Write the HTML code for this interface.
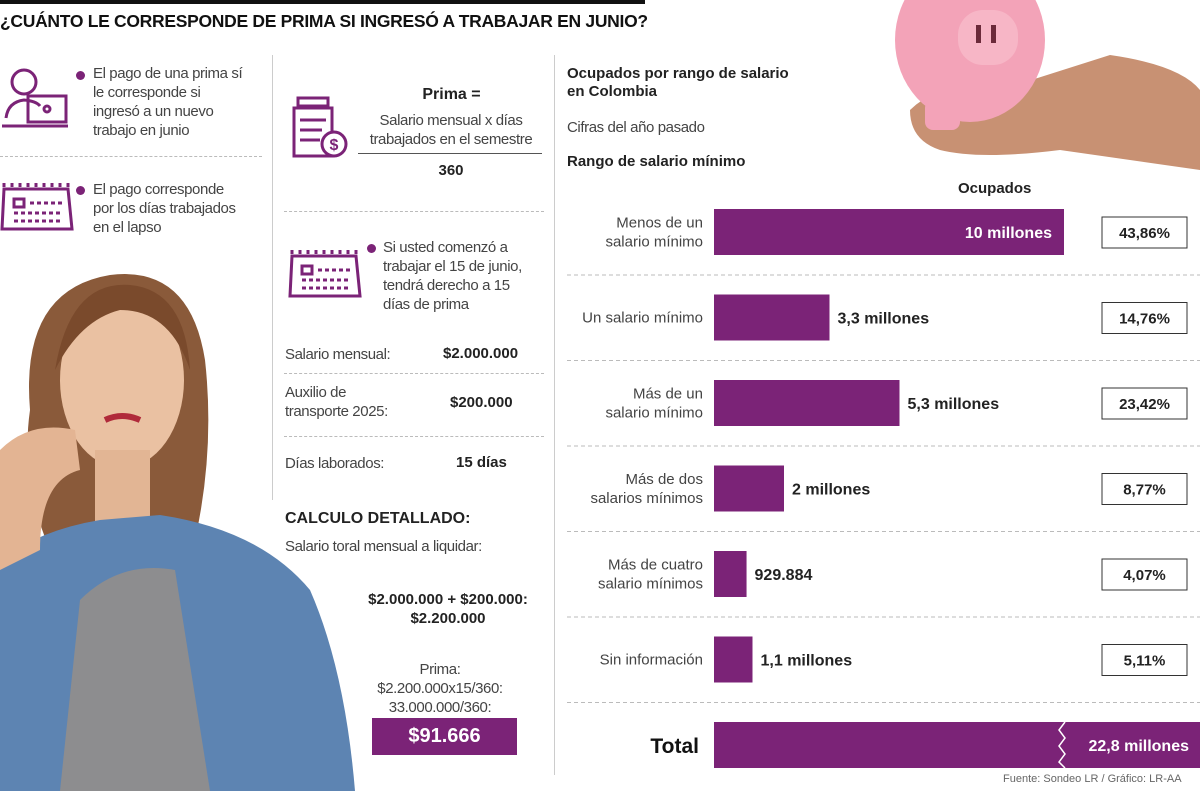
<!DOCTYPE html>
<html><head><meta charset="utf-8">
<style>
body{margin:0;width:1200px;height:791px;background:#fff;position:relative;overflow:hidden;font-family:"Liberation Sans",sans-serif;color:#333}
.a{position:absolute}
.t{font-size:15px;line-height:19px;color:#444;letter-spacing:-0.4px;white-space:nowrap}
.b{font-weight:bold;color:#222}
.dash{position:absolute;border-top:1px dashed #bbb;height:0}
.dot{position:absolute;width:9px;height:9px;border-radius:50%;background:#7b2377}
</style></head><body>
<div class="a" style="left:0;top:0;width:645px;height:4px;background:#111"></div>
<div class="a b" style="left:0;top:11px;font-size:17.5px;letter-spacing:-0.3px;color:#111">¿CUÁNTO LE CORRESPONDE DE PRIMA SI INGRESÓ A TRABAJAR EN JUNIO?</div>

<div class="a" style="left:272px;top:55px;width:1px;height:445px;background:#ccc"></div>
<div class="a" style="left:554px;top:55px;width:1px;height:720px;background:#ccc"></div>

<!-- left column -->
<svg class="a" style="left:0;top:66px" width="70" height="66" viewBox="0 0 70 66" fill="none" stroke="#7b2377" stroke-width="3"><circle cx="24" cy="16" r="12"/><path d="M6 52 Q8 36 24 34 Q36 35 40 40"/><rect x="28" y="30" width="38" height="26"/><circle cx="47" cy="43" r="3"/><path d="M2 60 H68"/></svg>
<div class="dot" style="left:76px;top:71px"></div>
<div class="a t" style="left:93px;top:64px">El pago de una prima sí<br>le corresponde si<br>ingresó a un nuevo<br>trabajo en junio</div>
<div class="dash" style="left:0;top:156px;width:262px"></div>
<svg class="a" style="left:0;top:181px" width="74" height="52" viewBox="0 0 74 52" fill="none" stroke="#7b2377" stroke-width="3"><path d="M4 8 H68 L72 48 H2 Z"/><path d="M4 6 V2 M12 6 V2 M20 6 V2 M28 6 V2 M36 6 V2 M44 6 V2 M52 6 V2 M60 6 V2 M68 6 V2"/><rect x="14" y="18" width="10" height="8"/><path d="M30 22 H62 M14 32 H62 M14 40 H62" stroke-dasharray="4 3"/></svg>
<div class="dot" style="left:76px;top:186px"></div>
<div class="a t" style="left:93px;top:180px">El pago corresponde<br>por los días trabajados<br>en el lapso</div>

<svg class="a" style="left:0;top:250px" width="355" height="541" viewBox="0 0 355 541">
<path d="M30 160 Q20 40 110 25 Q190 15 205 110 Q215 200 195 290 L50 300 Q20 230 30 160Z" fill="#8a5a3a"/>
<ellipse cx="122" cy="130" rx="62" ry="88" fill="#eac1a2"/>
<path d="M55 120 Q70 30 130 35 Q185 40 190 120 Q170 60 120 60 Q80 70 55 120Z" fill="#7a4a2c"/>
<rect x="95" y="200" width="55" height="80" fill="#e2b594"/>
<path d="M0 541 L0 310 Q40 280 100 270 L160 265 Q260 280 310 340 Q345 420 355 541Z" fill="#5d84b2"/>
<path d="M60 541 L80 350 Q120 310 175 320 L210 541Z" fill="#8d8d8f"/>
<path d="M0 200 Q30 170 75 180 L80 220 Q40 230 40 300 L0 320Z" fill="#e3b493"/>
<path d="M105 170 Q122 162 140 170" stroke="#b02a3a" stroke-width="6" fill="none"/>
</svg>

<!-- middle column -->
<svg class="a" style="left:288px;top:96px" width="62" height="64" viewBox="0 0 62 64" fill="none" stroke="#7b2377" stroke-width="3"><rect x="10" y="2" width="30" height="8"/><path d="M6 12 H44 V60 H6 Z"/><path d="M12 24 H38 M12 34 H34 M12 44 H32"/><circle cx="46" cy="48" r="12" fill="#fff"/><text x="46" y="54" font-size="16" fill="#7b2377" stroke="none" text-anchor="middle" font-weight="bold">$</text></svg>
<div class="a b" style="left:360px;top:86px;width:183px;text-align:center;font-size:16px">Prima =</div>
<div class="a t" style="left:358px;top:111px;width:186px;text-align:center">Salario mensual x días<br>trabajados en el semestre</div>
<div class="a" style="left:358px;top:153px;width:184px;height:1px;background:#555"></div>
<div class="a b" style="left:358px;top:162px;width:186px;text-align:center;font-size:15px">360</div>
<div class="dash" style="left:284px;top:211px;width:260px"></div>
<svg class="a" style="left:288px;top:248px" width="74" height="52" viewBox="0 0 74 52" fill="none" stroke="#7b2377" stroke-width="3"><path d="M4 8 H68 L72 48 H2 Z"/><path d="M4 6 V2 M12 6 V2 M20 6 V2 M28 6 V2 M36 6 V2 M44 6 V2 M52 6 V2 M60 6 V2 M68 6 V2"/><rect x="14" y="18" width="10" height="8"/><path d="M30 22 H62 M14 32 H62 M14 40 H62" stroke-dasharray="4 3"/></svg>
<div class="dot" style="left:367px;top:244px"></div>
<div class="a t" style="left:383px;top:238px">Si usted comenzó a<br>trabajar el 15 de junio,<br>tendrá derecho a 15<br>días de prima</div>
<div class="a t" style="left:285px;top:345px">Salario mensual:</div>
<div class="a b" style="left:443px;top:345px;font-size:15px">$2.000.000</div>
<div class="dash" style="left:284px;top:373px;width:260px"></div>
<div class="a t" style="left:285px;top:383px">Auxilio de<br>transporte 2025:</div>
<div class="a b" style="left:450px;top:394px;font-size:15px">$200.000</div>
<div class="dash" style="left:284px;top:436px;width:260px"></div>
<div class="a t" style="left:285px;top:454px">Días laborados:</div>
<div class="a b" style="left:456px;top:454px;font-size:15px">15 días</div>
<div class="a b" style="left:285px;top:510px;font-size:16px">CALCULO DETALLADO:</div>
<div class="a t" style="left:285px;top:537px">Salario toral mensual a liquidar:</div>
<div class="a b" style="left:318px;top:590px;width:260px;text-align:center;font-size:15px;line-height:19px">$2.000.000 + $200.000:<br>$2.200.000</div>
<div class="a t" style="left:330px;top:660px;width:220px;text-align:center">Prima:<br>$2.200.000x15/360:<br>33.000.000/360:</div>
<div class="a b" style="left:372px;top:718px;width:145px;height:37px;background:#7b2377;color:#fff;font-size:20px;line-height:37px;text-align:center">$91.666</div>

<!-- right column -->
<div class="a b" style="left:567px;top:65px;font-size:15px;line-height:18px">Ocupados por rango de salario<br>en Colombia</div>
<div class="a t" style="left:567px;top:118px">Cifras del año pasado</div>
<div class="a b" style="left:567px;top:153px;font-size:15px">Rango de salario mínimo</div>
<div class="a b" style="left:958px;top:180px;font-size:15px">Ocupados</div>

<svg class="a" style="left:880px;top:0" width="320" height="175" viewBox="0 0 320 175">
<path d="M30 110 Q60 80 120 90 L230 55 Q300 65 320 90 L320 170 Q250 160 180 150 Q100 160 60 150 Q30 140 30 110Z" fill="#c89173"/>
<ellipse cx="90" cy="40" rx="75" ry="82" fill="#f3a3b8"/>
<rect x="78" y="10" width="60" height="55" rx="25" fill="#f7b6c6"/>
<rect x="96" y="25" width="5" height="18" fill="#6b2a3a"/><rect x="111" y="25" width="5" height="18" fill="#6b2a3a"/>
<rect x="45" y="100" width="35" height="30" rx="8" fill="#f3a3b8"/>
</svg>

<svg class="a" id="chart" style="left:0;top:0" width="1200" height="791"></svg>
<div class="a" style="left:1003px;top:773px;font-size:11px;color:#666">Fuente: Sondeo LR / Gráfico: LR-AA</div>

<script>
const categories=[["Menos de un","salario mínimo"],["Un salario mínimo"],["Más de un","salario mínimo"],["Más de dos","salarios mínimos"],["Más de cuatro","salario mínimos"],["Sin información"]];
const values=[10,3.3,5.3,2,0.929884,1.1];
const valueLabels=["10 millones","3,3 millones","5,3 millones","2 millones","929.884","1,1 millones"];
const percents=["43,86%","14,76%","23,42%","8,77%","4,07%","5,11%"];
const totalLabel="22,8 millones";
const NS="http://www.w3.org/2000/svg";
const svg=document.getElementById('chart');
const x0=714, pxPerM=35, rowTop=209, rowH=85.5, barH=46;
const xScale=v=>v*pxPerM;
function mk(tag,attrs,txt){const e=document.createElementNS(NS,tag);for(const k in attrs)e.setAttribute(k,attrs[k]);if(txt!=null)e.textContent=txt;svg.appendChild(e);return e;}
values.forEach((v,i)=>{
  const y=rowTop+i*rowH, w=xScale(v), cy=y+barH/2;
  const r=mk('rect',{x:x0,y:y,width:w,height:barH,fill:'#7b2377'});
  
  
  const inside=w>250;
  const lt=mk('text',{x:inside?x0+w-12:x0+w+8,y:cy+6,'text-anchor':inside?'end':'start','font-size':16,'font-weight':'bold',fill:inside?'#fff':'#222','font-family':'Liberation Sans'},valueLabels[i]);
  
  
  const lines=categories[i];
  lines.forEach((s,j)=>{
    const ct=mk('text',{x:703,y:cy+5+(j-(lines.length-1)/2)*19,'text-anchor':'end','font-size':15,fill:'#444','font-family':'Liberation Sans'},s);
    
    
  });
  const pb=mk('rect',{x:1102,y:cy-15,width:85,height:31,fill:'#fff',stroke:'#333','stroke-width':1});
  
  
  const pt=mk('text',{x:1144.5,y:cy+6,'text-anchor':'middle','font-size':15,'font-weight':'bold',fill:'#222','font-family':'Liberation Sans'},percents[i]);
  
  
  const dl=mk('line',{x1:567,x2:1200,y1:y+barH+20,y2:y+barH+20,stroke:'#bbb','stroke-dasharray':'4 3'});
  
  
});
const ty=722;
const tb=mk('rect',{x:x0,y:ty,width:1200-x0,height:46,fill:'#7b2377'});


const zz=mk('path',{d:`M1065 ${ty} l-6 8 l6 8 l-6 8 l6 8 l-6 8 l6 6`,stroke:'#fff','stroke-width':1.5,fill:'none'});


const tl=mk('text',{x:1189,y:ty+29,'text-anchor':'end','font-size':16,'font-weight':'bold',fill:'#fff','font-family':'Liberation Sans'},totalLabel);


const tt=mk('text',{x:699,y:ty+31,'text-anchor':'end','font-size':21,'font-weight':'bold',fill:'#111','font-family':'Liberation Sans'},'Total');


</script>
</body></html>
